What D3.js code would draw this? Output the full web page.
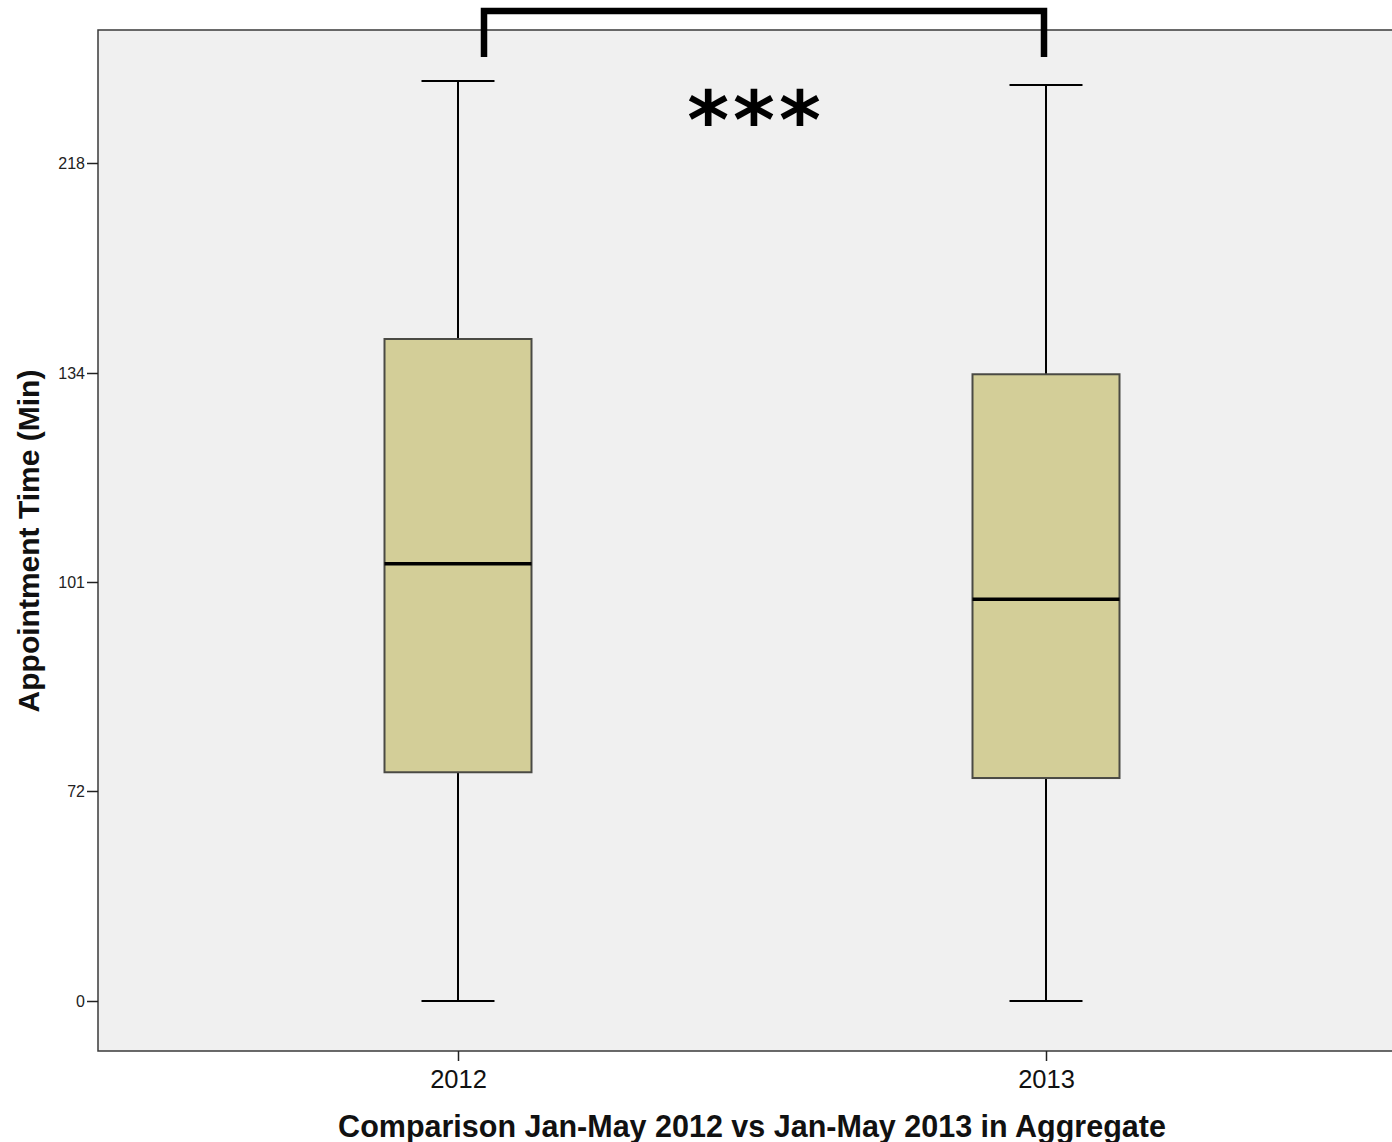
<!DOCTYPE html>
<html>
<head>
<meta charset="utf-8">
<script src="https://cdn.jsdelivr.net/npm/d3@7"></script>
<style>
  html, body { margin: 0; padding: 0; background: #ffffff; }
  svg { display: block; }
</style>
</head>
<body>
<svg id="chart" width="1392" height="1142"></svg>
<script>
// Groups compared
const categories = ["2012", "2013"];
// Five-number summaries (minutes)
const whiskerLow  = [0, 0];
const quartile1   = [74.6, 73.8];
const medians     = [103.9, 98.6];
const quartile3   = [147.6, 133.8];
const whiskerHigh = [250.8, 249.2];
// Y axis tick values (unevenly spaced values, evenly spaced on screen)
const yTicks = [0, 72, 101, 134, 218];

const svg = d3.select("#chart");
const plot = { left: 98, top: 30, right: 1400, bottom: 1051 };

// Piecewise-linear scale so the tick values sit at equal intervals
const tickPx = [1001, 791, 582, 373, 163];
const y = d3.scaleLinear().domain(yTicks).range(tickPx);
// Extend above the top tick using the last segment's slope
const yv = v => v > 218 ? 163 - (v - 218) * (210 / 84) : y(v);

const x = d3.scalePoint().domain(categories).range([458, 1046]);

// Plot background
svg.append("rect")
  .attr("x", plot.left).attr("y", plot.top)
  .attr("width", plot.right - plot.left).attr("height", plot.bottom - plot.top)
  .attr("fill", "#f0f0f0")
  .attr("stroke", "#3a3a3a").attr("stroke-width", 1.5);

// Y axis
const yAxis = d3.axisLeft(y).tickValues(yTicks).tickSize(11).tickSizeOuter(0).tickFormat(d3.format("d"));
const gy = svg.append("g").attr("transform", `translate(${plot.left},0)`).call(yAxis);
gy.select(".domain").remove();
gy.selectAll(".tick line").attr("stroke", "#222").attr("stroke-width", 1.5);
gy.selectAll(".tick text")
  .attr("font-family", "Liberation Sans, Arial, sans-serif")
  .attr("font-size", 16).attr("fill", "#222").attr("x", -13);

// X axis
const xAxis = d3.axisBottom(x).tickSize(10).tickSizeOuter(0);
const gx = svg.append("g").attr("transform", `translate(0,${plot.bottom})`).call(xAxis);
gx.select(".domain").remove();
gx.selectAll(".tick line").attr("stroke", "#222").attr("stroke-width", 1.5);
gx.selectAll(".tick text")
  .attr("font-family", "Liberation Sans, Arial, sans-serif")
  .attr("font-size", 25.5).attr("fill", "#111").attr("dy", "0.95em");

// Box plots
const boxW = 147, capW = 73;
const data = categories.map((c, i) => ({
  c, lo: whiskerLow[i], q1: quartile1[i], med: medians[i], q3: quartile3[i], hi: whiskerHigh[i]
}));
const g = svg.append("g").selectAll("g").data(data).join("g");

// whisker stems
g.append("line")
  .attr("x1", d => x(d.c)).attr("x2", d => x(d.c))
  .attr("y1", d => yv(d.hi)).attr("y2", d => yv(d.q3))
  .attr("stroke", "#000").attr("stroke-width", 2);
g.append("line")
  .attr("x1", d => x(d.c)).attr("x2", d => x(d.c))
  .attr("y1", d => yv(d.q1)).attr("y2", d => yv(d.lo))
  .attr("stroke", "#000").attr("stroke-width", 2);
// caps
g.append("line")
  .attr("x1", d => x(d.c) - capW / 2).attr("x2", d => x(d.c) + capW / 2)
  .attr("y1", d => yv(d.hi)).attr("y2", d => yv(d.hi))
  .attr("stroke", "#000").attr("stroke-width", 2);
g.append("line")
  .attr("x1", d => x(d.c) - capW / 2).attr("x2", d => x(d.c) + capW / 2)
  .attr("y1", d => yv(d.lo)).attr("y2", d => yv(d.lo))
  .attr("stroke", "#000").attr("stroke-width", 2);
// boxes
g.append("rect")
  .attr("x", d => x(d.c) - boxW / 2).attr("width", boxW)
  .attr("y", d => yv(d.q3)).attr("height", d => yv(d.q1) - yv(d.q3))
  .attr("fill", "#d3ce98").attr("stroke", "#4a4a44").attr("stroke-width", 2);
// medians
g.append("line")
  .attr("x1", d => x(d.c) - boxW / 2).attr("x2", d => x(d.c) + boxW / 2)
  .attr("y1", d => yv(d.med)).attr("y2", d => yv(d.med))
  .attr("stroke", "#000").attr("stroke-width", 3.5);

// Significance bracket
const bx1 = x("2012") + 26, bx2 = x("2013") - 2;
svg.append("path")
  .attr("d", `M${bx1},57 V11 H${bx2} V57`)
  .attr("fill", "none").attr("stroke", "#000").attr("stroke-width", 6.5)
  .attr("stroke-linejoin", "miter");
svg.append("text")
  .attr("x", (bx1 + bx2) / 2 - 8).attr("y", 148)
  .attr("text-anchor", "middle")
  .attr("font-family", "DejaVu Sans, sans-serif").attr("font-weight", "bold")
  .attr("font-size", 80).attr("letter-spacing", 4)
  .text("***");

// Axis titles
svg.append("text")
  .attr("transform", "translate(39,541) rotate(-90)")
  .attr("text-anchor", "middle")
  .attr("font-family", "Liberation Sans, Arial, sans-serif")
  .attr("font-weight", "bold").attr("font-size", 30).attr("fill", "#111")
  .text("Appointment Time (Min)");
svg.append("text")
  .attr("x", 752).attr("y", 1137)
  .attr("text-anchor", "middle")
  .attr("font-family", "Liberation Sans, Arial, sans-serif")
  .attr("font-weight", "bold").attr("font-size", 30.5).attr("fill", "#111")
  .text("Comparison Jan-May 2012 vs Jan-May 2013 in Aggregate");
</script>
</body>
</html>
